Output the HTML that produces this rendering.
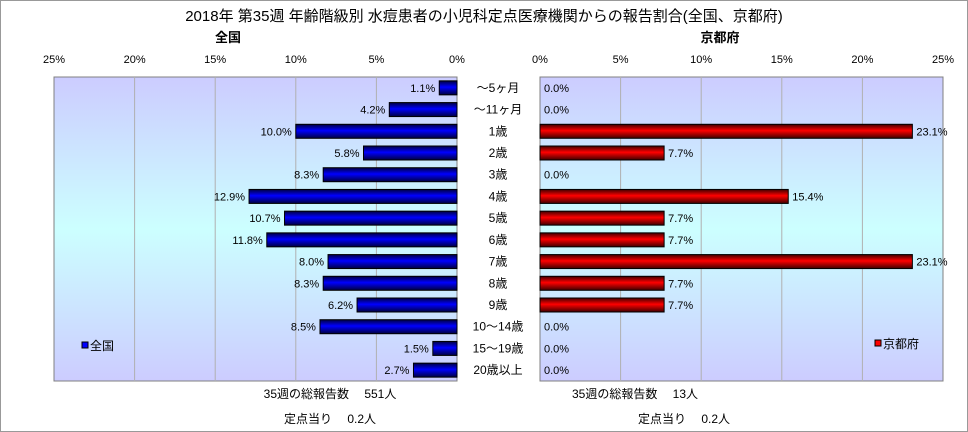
<!DOCTYPE html>
<html><head><meta charset="utf-8"><style>
body{margin:0;background:#fff;}
svg{display:block;font-family:"Liberation Sans","Noto Sans CJK JP",sans-serif;}
</style></head><body>
<svg id="c" width="968" height="432" xmlns="http://www.w3.org/2000/svg">
<defs>
<linearGradient id="bg" x1="0" y1="0" x2="0" y2="1">
<stop offset="0" stop-color="#ccccff"/><stop offset="0.5" stop-color="#ccffff"/><stop offset="1" stop-color="#ccccff"/></linearGradient>
<linearGradient id="gb" x1="0" y1="0" x2="0" y2="1">
<stop offset="0" stop-color="#000040"/><stop offset="0.45" stop-color="#0000ff"/><stop offset="1" stop-color="#000040"/></linearGradient>
<linearGradient id="gr" x1="0" y1="0" x2="0" y2="1">
<stop offset="0" stop-color="#400000"/><stop offset="0.45" stop-color="#ff0000"/><stop offset="1" stop-color="#400000"/></linearGradient>
</defs>
<rect x="0.5" y="0.5" width="967" height="431" fill="#fff" stroke="#999"/>
<text x="484" y="21" font-size="15" text-anchor="middle">2018年 第35週 年齢階級別 水痘患者の小児科定点医療機関からの報告割合(全国、京都府)</text>
<text x="228" y="42" font-size="13" font-weight="bold" text-anchor="middle">全国</text>
<text x="720" y="42" font-size="13" font-weight="bold" text-anchor="middle">京都府</text>
<g id="g"></g>
<text x="330" y="398" font-size="12" text-anchor="middle">35週の総報告数　 551人</text>
<text x="330" y="423" font-size="12" text-anchor="middle">定点当り　 0.2人</text>
<text x="635" y="398" font-size="12" text-anchor="middle">35週の総報告数　 13人</text>
<text x="684" y="423" font-size="12" text-anchor="middle">定点当り　 0.2人</text>
</svg>
<script>
const categories=["～5ヶ月","～11ヶ月","1歳","2歳","3歳","4歳","5歳","6歳","7歳","8歳","9歳","10～14歳","15～19歳","20歳以上"];
const nationalValues=[1.1,4.2,10.0,5.8,8.3,12.9,10.7,11.8,8.0,8.3,6.2,8.5,1.5,2.7];
const kyotoValues=[0.0,0.0,23.1,7.7,0.0,15.4,7.7,7.7,23.1,7.7,7.7,0.0,0.0,0.0];
const tickValues=[0,5,10,15,20,25];
const tickLabels=["0%","5%","10%","15%","20%","25%"];
const NS="http://www.w3.org/2000/svg";
const g=document.getElementById('g');
const top0=77,bot0=381,maxV=25;
const L0=457,L1=54,R0=540,R1=943;
const rowH=(bot0-top0)/categories.length;
const xL=v=>L0-(L0-L1)*v/maxV;
const xR=v=>R0+(R1-R0)*v/maxV;
const yC=i=>top0+rowH*(i+0.5);
function mk(t,a){const e=document.createElementNS(NS,t);for(const k in a)e.setAttribute(k,a[k]);g.appendChild(e);return e;}
// plot areas
let p=mk('rect',{x:L1,y:top0,width:L0-L1,height:bot0-top0,fill:'url(#bg)',stroke:'#808080'});


p=mk('rect',{x:R0,y:top0,width:R1-R0,height:bot0-top0,fill:'url(#bg)',stroke:'#808080'});


tickValues.forEach((v,i)=>{
  if(v>0&&v<maxV){
    let l=mk('line',{x1:xL(v),x2:xL(v),y1:top0,y2:bot0,stroke:'#b0b0b0'});
    
    
    l=mk('line',{x1:xR(v),x2:xR(v),y1:top0,y2:bot0,stroke:'#b0b0b0'});
    
    
  }
  let t=mk('text',{x:xL(v),y:63,'font-size':11,'text-anchor':'middle'});t.textContent=tickLabels[i];
  
  
  t=mk('text',{x:xR(v),y:63,'font-size':11,'text-anchor':'middle'});t.textContent=tickLabels[i];
  
  
});
const bh=14;
categories.forEach((c,i)=>{
  const y=yC(i);
  let t=mk('text',{x:498,y:y+4,'font-size':12,'text-anchor':'middle'});t.textContent=c;
  
  
  const nv=nationalValues[i];
  if(nv>0){let b=mk('rect',{x:xL(nv),y:y-bh/2,width:L0-xL(nv),height:bh,fill:'url(#gb)',stroke:'#000'});
  
  }
  t=mk('text',{x:xL(nv)-4,y:y+4,'font-size':11,'text-anchor':'end'});t.textContent=nv.toFixed(1)+'%';
  
  
  const kv=kyotoValues[i];
  if(kv>0){let b=mk('rect',{x:R0,y:y-bh/2,width:xR(kv)-R0,height:bh,fill:'url(#gr)',stroke:'#000'});
  
  }
  t=mk('text',{x:xR(kv)+4,y:y+4,'font-size':11});t.textContent=kv.toFixed(1)+'%';
  
  
});
// legends
let r=mk('rect',{x:82,y:342,width:6,height:6,fill:'#0000ff',stroke:'#000'});


let t=mk('text',{x:90,y:350,'font-size':12});t.textContent='全国';


r=mk('rect',{x:875,y:340,width:6,height:6,fill:'#ff0000',stroke:'#000'});


t=mk('text',{x:883,y:348,'font-size':12});t.textContent='京都府';


</script>
</body></html>
